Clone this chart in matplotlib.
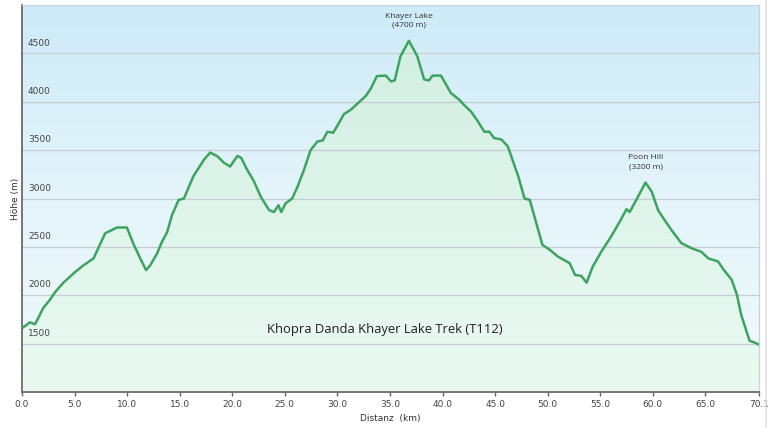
import numpy as np
import matplotlib
matplotlib.use('Agg')
import matplotlib.pyplot as plt
from matplotlib.colors import LinearSegmentedColormap
from matplotlib.lines import Line2D

plt.rcParams['font.family'] = ['DejaVu Sans']

# Höhenprofil (km, m)
dist_km = [0.0, 0.76, 1.24, 2.03, 2.67, 3.15, 3.94, 5.05, 5.85, 6.8, 7.44, 7.91, 9.03, 9.98,
           10.6, 11.25, 11.8, 12.2, 12.84, 13.3, 13.8, 14.27, 14.9, 15.4, 16.3, 17.3, 17.9,
           18.6, 19.2, 19.8, 20.1, 20.5, 20.85, 21.4, 22.05, 22.7, 23.5, 23.96, 24.4, 24.66,
           25.07, 25.7, 26.2, 26.8, 27.45, 28.1, 28.6, 29.05, 29.6, 30.15, 30.6, 31.3, 31.9,
           32.7, 33.2, 33.75, 34.6, 35.1, 35.45, 36.0, 36.8, 37.6, 38.25, 38.7, 39.05, 39.85,
           40.8, 41.6, 42.2, 42.7, 43.35, 43.97, 44.45, 44.9, 45.6, 46.2, 47.2, 47.8, 48.3,
           48.75, 49.5, 50.2, 50.97, 51.8, 52.1, 52.6, 53.2, 53.7, 54.3, 55.1, 56.05, 56.85,
           57.5, 57.8, 58.6, 59.3, 59.9, 60.5, 61.1, 61.8, 62.7, 63.7, 64.6, 65.3, 66.2, 66.7,
           67.5, 68.0, 68.4, 69.2, 69.7, 70.1]
hoehe_m = [1660, 1720, 1700, 1870, 1955, 2033, 2130, 2240, 2310, 2380, 2530, 2640, 2700, 2700,
           2530, 2380, 2260, 2310, 2430, 2550, 2650, 2830, 2985, 3000, 3230, 3400, 3475,
           3435, 3370, 3330, 3380, 3440, 3420, 3300, 3180, 3020, 2880, 2860, 2930, 2860,
           2950, 3000, 3120, 3290, 3500, 3590, 3600, 3690, 3680, 3780, 3870, 3920, 3980,
           4060, 4140, 4265, 4270, 4210, 4220, 4470, 4630, 4470, 4230, 4220, 4270, 4270,
           4090, 4020, 3950, 3900, 3800, 3690, 3690, 3625, 3610, 3540, 3230, 3000, 2985,
           2810, 2520, 2470, 2400, 2350, 2330, 2210, 2200, 2130, 2300, 2450, 2610, 2760,
           2890, 2860, 3020, 3165, 3070, 2880, 2780, 2670, 2540, 2485, 2450, 2380, 2350, 2270,
           2160, 2005, 1800, 1530, 1510, 1490]

y_ticks = [1500, 2000, 2500, 3000, 3500, 4000, 4500]
x_ticks = [0, 5, 10, 15, 20, 25, 30, 35, 40, 45, 50, 55, 60, 65, 70.1]
x_labels = ['0.0', '5.0', '10.0', '15.0', '20.0', '25.0', '30.0', '35.0', '40.0', '45.0',
            '50.0', '55.0', '60.0', '65.0', '70.1']
gipfel = [('Khayer Lake\n(4700 m)', 36.8, 4630), ('Poon Hill\n(3200 m)', 59.3, 3165)]
titel = 'Khopra Danda Khayer Lake Trek (T112)'

fig = plt.figure(figsize=(7.68, 4.28), dpi=100)
ax = fig.add_axes([22 / 768, 36 / 428, 737 / 768, 387 / 428])
ax.set_xlim(0, 70.1)
ax.set_ylim(1000, 5000)

# Hintergrund-Verlauf
bg = LinearSegmentedColormap.from_list('bg', ['#f0fafb', '#e4f4fa', '#cdebf8'])
grad = np.linspace(0, 1, 256).reshape(-1, 1)
ax.imshow(grad, cmap=bg, origin='lower', extent=[0, 1, 0, 1], transform=ax.transAxes,
          aspect='auto', zorder=0)

# Fläche unter der Kurve mit Verlauf
poly = ax.fill_between(dist_km, hoehe_m, 1000, color='none', zorder=1)
fg = LinearSegmentedColormap.from_list('fg', ['#eafaf1', '#d3f0df'])
im = ax.imshow(grad, cmap=fg, origin='lower', extent=[0, 70.1, 1000, 4700],
               aspect='auto', zorder=1, alpha=0.85)
im.set_clip_path(poly.get_paths()[0], transform=ax.transData)

# Gitter
for t in y_ticks:
    ax.axhline(t, color='#c5cfd3', lw=0.9, zorder=2)

ax.plot(dist_km, hoehe_m, color='#3da45f', lw=1.8, zorder=3, solid_joinstyle='round')

for name, x, y in gipfel:
    ax.annotate(name, (x, y), xytext=(0, 9), textcoords='offset points', ha='center',
                va='bottom', fontsize=6, color='#333333', linespacing=1.35,
                family=['Open Sans', 'DejaVu Sans'])

ax.text(34.5, 1650, titel, ha='center', va='center', fontsize=9.4, color='#222222',
        family=['Open Sans', 'DejaVu Sans'])

# Achsen
ax.set_xticks(x_ticks)
ax.set_xticklabels(x_labels)
ax.set_yticks(y_ticks)
ax.set_yticklabels([])
ax.tick_params(axis='y', length=0)
ax.tick_params(axis='x', length=3, width=1, color='#666666', labelsize=6.5,
               labelcolor='#444444', pad=3)
for t in y_ticks:
    ax.text(0.008, t + 60, str(t), transform=ax.get_yaxis_transform(), fontsize=6.5,
            color='#444444', va='bottom', ha='left', zorder=4)

for s in ['left', 'bottom']:
    ax.spines[s].set_color('#6b6b6b')
    ax.spines[s].set_linewidth(1.3)
for s in ['top', 'right']:
    ax.spines[s].set_color('#c9d4d9')
    ax.spines[s].set_linewidth(0.9)

ax.set_xlabel('Distanz  (km)', fontsize=6.5, color='#333333', labelpad=3)
ax.set_ylabel('Höhe (m)', fontsize=6.5, color='#333333')
ax.yaxis.set_label_coords(-0.003, 0.5)

fig.add_artist(Line2D([766 / 768, 766 / 768], [0, 1], color='#e2e2e2', lw=1.2))

fig.savefig('out.png', dpi=100)
